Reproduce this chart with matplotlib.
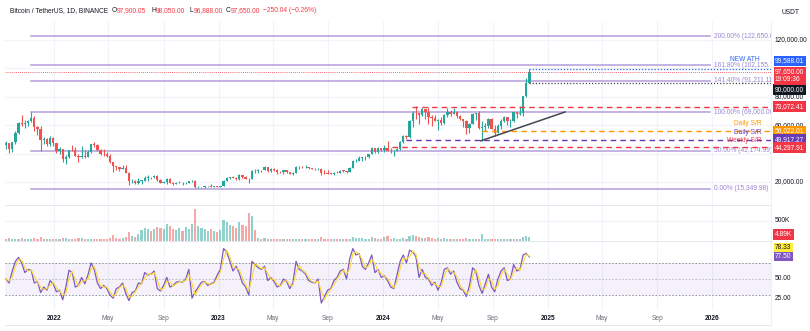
import datetime as dt
import matplotlib
matplotlib.use("Agg")
import matplotlib.pyplot as plt
import matplotlib.dates as mdates
import matplotlib.transforms as mtrans
import numpy as np

plt.rcParams["font.family"] = ["Liberation Sans", "DejaVu Sans"]

# ---------------- data (weekly BTC/USDT candles, prices in thousands) ----------------
first_week = dt.date(2021, 9, 13)
first_open = 46.0
closes = [47.3, 43.2, 48.2, 54.7, 61.5, 61.0, 61.3, 63.3, 65.0, 58.6, 57.3, 49.4, 50.1, 46.7, 50.8, 47.3,
          41.9, 43.1, 36.3, 37.9, 42.4, 42.2, 38.4, 37.7, 38.4, 37.8, 41.3, 46.8, 46.4, 42.8, 39.7, 39.5, 38.5,
          34.3, 31.3, 30.3, 29.4, 29.9, 26.6, 20.6, 21.0, 19.3, 20.8, 20.8, 22.6, 23.3, 23.2, 24.4, 21.5, 19.6,
          20.0, 21.8, 19.4, 18.8, 19.3, 19.4, 19.2, 19.6, 20.6, 21.0, 16.3, 16.3, 16.5, 17.1, 17.1, 16.8, 16.8, 16.6,
          17.1, 20.9, 22.7, 23.7, 23.0, 21.8, 24.6, 23.2, 22.4, 22.0, 28.0, 27.5, 28.5, 28.3, 30.3, 27.8, 29.2,
          28.4, 26.9, 26.8, 28.1, 27.2, 25.9, 26.5, 30.5, 30.6, 30.3, 30.3, 29.8, 29.3, 29.0, 29.4, 26.1, 26.0,
          25.9, 25.8, 26.5, 26.3, 28.0, 27.9, 27.0, 30.0, 34.5, 35.0, 37.1, 37.4, 37.5, 39.5, 43.8, 41.4, 43.7, 42.3,
          43.9, 41.7, 41.6, 42.0, 43.0, 48.3, 52.1, 51.7, 63.1, 68.9, 68.4, 67.2, 71.3, 69.4, 65.7, 64.9, 63.1,
          64.0, 61.5, 67.0, 69.0, 67.8, 69.3, 66.6, 64.3, 62.7, 58.2, 60.8, 68.2, 68.3, 58.1, 58.7, 59.5, 64.2,
          57.3, 54.8, 59.1, 63.3, 65.6, 62.8, 63.0, 69.0, 67.9, 68.7, 80.4, 89.8, 97.65]
highs = [48.8, 47.4, 48.5, 56.0, 62.0, 67.0, 63.7, 63.6, 69.0, 66.3, 59.3, 59.2, 51.9, 50.7, 52.1, 52.0,
         47.6, 44.5, 43.5, 38.9, 42.6, 45.8, 44.7, 39.8, 45.4, 42.6, 42.3, 47.0, 48.2, 47.1, 43.4, 42.9, 40.8,
         40.0, 34.4, 31.3, 30.6, 32.2, 31.8, 26.9, 21.9, 21.5, 22.5, 21.6, 24.3, 24.7, 23.6, 25.2, 25.0, 21.9,
         20.6, 22.8, 22.7, 19.7, 20.3, 20.5, 19.9, 19.7, 21.0, 21.5, 21.5, 17.2, 16.8, 17.4, 17.4, 18.4, 17.1, 16.9,
         17.2, 21.3, 23.4, 23.8, 24.2, 23.3, 25.3, 25.1, 23.9, 22.6, 28.4, 28.9, 29.2, 28.8, 31.0, 30.5, 30.0,
         29.8, 29.0, 27.7, 28.3, 28.4, 27.2, 26.8, 31.4, 31.0, 31.5, 31.8, 30.5, 30.0, 29.8, 30.2, 29.7, 28.2,
         28.1, 26.1, 27.0, 27.5, 28.6, 28.6, 28.0, 30.3, 35.2, 35.9, 38.0, 37.9, 38.4, 39.7, 44.7, 44.0, 44.3, 43.8,
         45.9, 49.0, 43.6, 42.8, 43.9, 48.6, 52.8, 52.9, 64.0, 70.1, 73.8, 68.9, 71.8, 71.3, 72.8, 66.9, 67.2,
         64.7, 65.5, 67.7, 71.9, 70.6, 71.9, 70.2, 67.3, 64.5, 63.8, 61.4, 68.3, 68.5, 70.0, 62.7, 61.8, 65.0,
         64.9, 59.8, 60.6, 64.1, 66.5, 66.0, 64.5, 69.4, 69.5, 73.6, 80.5, 93.5, 99.58801]
lows = [43.4, 40.1, 40.8, 47.0, 53.8, 59.5, 57.8, 59.4, 62.3, 55.6, 53.3, 42.0, 47.1, 45.5, 45.6, 45.7,
        40.6, 39.7, 34.0, 32.9, 36.6, 41.6, 38.0, 34.3, 37.2, 37.2, 37.6, 40.5, 44.3, 42.1, 39.2, 38.5, 37.7,
        33.7, 26.7, 28.6, 28.0, 29.3, 26.5, 17.6, 19.6, 18.6, 18.8, 18.9, 20.7, 20.7, 22.4, 22.7, 21.0, 19.5,
        19.5, 18.5, 19.3, 18.1, 18.5, 19.2, 18.2, 18.8, 19.2, 20.0, 15.6, 16.0, 15.5, 16.0, 16.8, 16.5, 16.5, 16.4,
        16.5, 17.0, 20.4, 22.3, 22.5, 21.4, 21.5, 22.9, 21.9, 19.6, 21.9, 26.6, 26.5, 27.2, 28.2, 27.1, 27.0,
        27.7, 25.8, 26.3, 25.9, 26.5, 25.4, 24.8, 26.2, 29.5, 29.7, 29.9, 29.5, 29.0, 28.6, 28.7, 25.2, 25.8,
        25.3, 25.3, 24.9, 26.0, 26.0, 27.2, 26.5, 26.8, 29.9, 34.0, 34.5, 34.8, 35.6, 36.9, 39.5, 40.2, 40.6, 41.5,
        40.8, 41.5, 40.5, 38.5, 41.9, 42.3, 47.7, 50.5, 50.9, 59.0, 64.5, 60.7, 66.5, 64.5, 60.6, 59.6, 62.8,
        56.5, 60.2, 60.6, 66.0, 66.6, 67.8, 65.0, 63.4, 58.4, 53.5, 54.3, 60.6, 63.4, 57.1, 49.0, 56.1, 57.8,
        57.2, 52.5, 54.6, 57.5, 62.6, 59.8, 58.9, 62.4, 65.1, 67.5, 66.8, 80.2, 89.4]
# volume, thousands of BTC per day
volumes = [55, 70, 60, 55, 60, 65, 55, 50, 60, 65, 50, 90, 50, 45, 40, 40,
           60, 45, 85, 70, 50, 55, 45, 80, 70, 50, 45, 50, 45, 50, 45, 45, 50, 70, 140, 70, 60, 75, 90, 230,
           120, 110, 180, 280, 330, 300, 260, 310, 350, 330, 300, 420, 380, 300, 280, 330, 260, 350,
           300, 420, 790, 380, 330, 300, 260, 300, 250, 230,
           280, 520, 470, 400, 380, 330, 480, 400, 380, 710, 620, 280, 70,
           60, 65, 60, 55, 50, 55, 50, 45, 50, 45, 40, 60, 55, 50, 55, 40, 40, 40, 40, 110, 55, 50, 40, 45,
           40, 45, 45, 40, 60, 95, 75, 70, 65, 60, 60, 100, 75, 60, 55,
           90, 120, 60, 65, 50, 55, 70, 50, 130, 150, 120, 110, 75, 80, 90, 85, 55, 75, 50, 65, 60, 45, 45,
           50, 45, 55, 70, 60, 60, 45, 60, 180, 55, 55, 55, 45, 45, 45, 40, 45, 40, 50, 45, 55, 110, 130, 100]
rsi = [50, 45, 60, 72, 77, 70, 58, 62, 61, 45, 47, 33, 40, 36, 48, 44,
       34, 36, 24, 40, 61, 58, 40, 42, 52, 44, 55, 70, 62, 45, 38, 42, 38, 30, 26, 38, 40, 45, 32, 23,
       33, 35, 45, 44, 58, 55, 56, 60, 38, 35, 42, 52, 40, 42, 46, 47, 46, 50, 62, 26, 34, 40, 46, 47,
       42, 44, 46, 55, 62, 88, 84, 72, 60, 66, 57, 45, 40, 30, 72, 68, 64, 62, 66, 48, 52, 47, 40, 42,
       50, 47, 38, 45, 72, 62, 60, 56, 48, 46, 45, 50, 20, 28, 36, 38, 48, 52, 60, 62, 50, 75, 88, 80,
       82, 66, 62, 70, 80, 58, 62, 52, 54, 48, 40, 38, 55, 72, 80, 70, 86, 84, 78, 52, 62, 52, 50, 42,
       46, 36, 45, 62, 64, 56, 60, 46, 38, 36, 28, 42, 64, 60, 42, 32, 44, 56, 40, 34, 50, 60, 64, 48,
       50, 68, 60, 62, 80, 82, 77.5]
rsi_ma = [50, 47.5, 52.5, 66, 74.5, 73.5, 64, 60, 61.5, 53, 46, 40, 36.5, 38, 42, 46,
          39, 35, 30, 32, 50.5, 59.5, 49, 41, 47, 48, 49.5, 62.5, 66, 53.5, 41.5, 40, 40, 34, 28, 32, 39,
          42.5, 38.5, 27.5, 28, 34, 40, 44.5, 51, 56.5, 55.5, 58, 49, 36.5, 38.5, 47, 46, 41, 44, 46.5,
          46.5, 48, 56, 44, 30, 37, 43, 46.5, 44.5, 43, 45, 50.5, 58.5, 75, 86, 78, 66, 63, 61.5, 51,
          42.5, 35, 51, 70, 66, 63, 64, 57, 50, 49.5, 43.5, 41, 46, 48.5, 42.5, 41.5, 58.5, 67, 61, 58,
          52, 47, 45.5, 47.5, 35, 24, 32, 37, 43, 50, 56, 61, 56, 62.5, 81.5, 84, 81, 74, 64, 66, 75, 69,
          60, 57, 53, 51, 44, 39, 46.5, 63.5, 76, 75, 78, 85, 81, 65, 57, 57, 51, 46, 44, 41, 40.5, 53.5,
          63, 60, 58, 53, 42, 37, 32, 35, 53, 62, 51, 37, 38, 50, 48, 37, 42, 55, 62, 56, 49, 59, 64, 61,
          71, 81, 78.33]

# Fibonacci retracement anchors
fib_low, fib_high = 15349.98, 69000.00
fib_ratios = [0.0, 0.5, 1.0, 1.414, 1.618, 2.0]
fib_span = (dt.date(2021, 11, 10), dt.date(2025, 12, 27))

# support / resistance levels: (value, start date, colour, caption)
sr_levels = [(73072.41, dt.date(2024, 3, 5), "#f23645", None),
             (56022.01, dt.date(2024, 8, 7), "#ff9800", "Daily S/R"),
             (49917.27, dt.date(2024, 2, 20), "#673ab7", "Daily S/R"),
             (44297.91, dt.date(2024, 1, 20), "#f23645", "Weekly S/R")]
trend_dates = [dt.date(2024, 8, 5), dt.date(2025, 2, 8)]
trend_prices = [49000, 69300]
last_price, ath_price, round_level = 97650.00, 99588.01, 90000.00
line_start = dt.date(2024, 11, 21)

tick_dates = [dt.date(2022, 1, 1), dt.date(2022, 5, 1), dt.date(2022, 9, 1), dt.date(2023, 1, 1),
              dt.date(2023, 5, 1), dt.date(2023, 9, 1), dt.date(2024, 1, 1), dt.date(2024, 5, 1),
              dt.date(2024, 9, 1), dt.date(2025, 1, 1), dt.date(2025, 5, 1), dt.date(2025, 9, 1),
              dt.date(2026, 1, 1)]
tick_labels = ["2022", "May", "Sep", "2023", "May", "Sep", "2024", "May", "Sep", "2025", "May", "Sep", "2026"]
price_grid = [20000, 40000, 60000, 80000, 100000, 120000]
price_labels = [120000, 80000, 60000, 20000]

# ---------------- figure ----------------
W, H = 810, 331
fig = plt.figure(figsize=(W / 100, H / 100), dpi=100)
fig.patch.set_facecolor("white")
FS = 4.8
GREEN, RED = "#26a69a", "#ef5350"
TXT = "#131722"
GRID = "#f0f3fa"


def rect(x0, y0, x1, y1):
    return [x0 / W, 1 - y1 / H, (x1 - x0) / W, (y1 - y0) / H]


ax = fig.add_axes(rect(5, 22, 771, 205))
axv = fig.add_axes(rect(5, 205, 771, 241), sharex=ax)
axr = fig.add_axes(rect(5, 241, 771, 310), sharex=ax)
for a in (ax, axv, axr):
    a.set_facecolor("none")
    for s in a.spines.values():
        s.set_visible(False)
    a.tick_params(left=False, bottom=False, labelleft=False, labelbottom=False)
    for d in tick_dates:
        a.axvline(mdates.date2num(d), color=GRID, lw=0.8, zorder=0)

ref = mdates.date2num(dt.date(2024, 1, 1))
ax.set_xlim(ref - 839.1, ref + 861.3)
ax.set_ylim(3803, 132676)
axv.set_ylim(0, 900)
axr.set_ylim(11.25, 97.5)

# candles
n = len(closes)
x = mdates.date2num([first_week + dt.timedelta(days=7 * i + 3) for i in range(n)])
c = np.array(closes) * 1000
o = np.concatenate([[first_open * 1000], c[:-1]])
hi = np.array(highs) * 1000
lo = np.array(lows) * 1000
up = c >= o
cols = np.where(up, GREEN, RED)
for yv in price_grid:
    ax.axhline(yv, color=GRID, lw=0.8, zorder=0)
ax.vlines(x, lo, hi, colors=cols, lw=0.8, zorder=3)
body = np.maximum(np.abs(c - o), 300)
ax.bar(x, body, bottom=np.minimum(o, c), width=5.2, color=cols, zorder=4, linewidth=0)

# Fibonacci levels
FIB_C = "#b39ddb"
FIB_T = "#9a86d0"
fx0, fx1 = mdates.date2num(fib_span[0]), mdates.date2num(fib_span[1])
for r in fib_ratios:
    lvl = fib_low + r * (fib_high - fib_low)
    ax.plot([fx0, fx1], [lvl, lvl], color=FIB_C, lw=1.1, zorder=2)
    ax.annotate(f"{r * 100:.2f}% ({lvl:,.2f})", xy=(fx1, lvl), xytext=(3, 0), textcoords="offset points",
                ha="left", va="center", fontsize=FS, color=FIB_T, annotation_clip=False, clip_on=True)

# support / resistance
xend = ax.get_xlim()[1]
for val, start, col, cap in sr_levels:
    ax.plot([mdates.date2num(start), xend], [val, val], color=col, lw=1.0, ls=(0, (4, 3)), zorder=5)
    if cap:
        ax.annotate(cap, xy=(xend, val), xytext=(-7, 5), textcoords="offset points", ha="right",
                    va="center", fontsize=FS, color=col, zorder=6)

# trend line
ax.plot(mdates.date2num(trend_dates), trend_prices, color="#434651", lw=1.1, zorder=6)

# current price, ATH and round-number lines
ax.axhline(last_price, color="#f23645", lw=0.6, ls=(0, (1, 1.5)), zorder=5)
ls0 = mdates.date2num(line_start)
ax.plot([ls0, xend], [ath_price, ath_price], color="#2962ff", lw=0.9, ls=(0, (1, 1.5)), zorder=5)
ax.plot([ls0, xend], [round_level, round_level], color="#434651", lw=0.9, ls=(0, (1, 1.5)), zorder=5)
ax.annotate("NEW ATH", xy=(xend, ath_price), xytext=(-8, 7), textcoords="offset points", ha="right",
            va="center", fontsize=FS, color="#2962ff", zorder=7)

# volume
axv.axhline(500, color=GRID, lw=0.8, zorder=0)
axv.bar(x, volumes, width=4.8, color=cols, alpha=0.5, linewidth=0)

# RSI
axr.axhspan(30, 70, color="#7e57c2", alpha=0.08, lw=0)
for lvl, al in ((70, 0.9), (50, 0.5), (30, 0.9)):
    axr.axhline(lvl, color="#787b86", lw=0.6, ls=(0, (2, 2)), alpha=al)
axr.plot(x, rsi, color="#7e57c2", lw=0.9, zorder=3)
axr.plot(x, rsi_ma, color="#fdd835", lw=0.8, zorder=4)

# ---------------- right-hand scale ----------------
SX = 775 / W


def tag(a, val, text, fc=None, tc=TXT, dy=0.0, pad=0.25):
    kw = dict(xy=(SX, val), xycoords=("figure fraction", "data"), xytext=(0, -dy * 0.72),
              textcoords="offset points", ha="left", va="center", fontsize=FS, color=tc,
              annotation_clip=False, zorder=10)
    if fc:
        kw["bbox"] = dict(boxstyle=f"square,pad={pad}", fc=fc, ec="none")
    a.annotate(text, **kw)


for p in price_labels:
    tag(ax, p, f"{p:,.2f}")
tag(ax, round_level, f"{round_level:,.2f}", TXT, "white", dy=7)
tag(ax, last_price, f"{last_price:,.2f}\n19:09:36", "#f23645", "white", dy=4, pad=0.2)
tag(ax, ath_price, f"{ath_price:,.2f}", "#2962ff", "white", dy=-8, pad=0.2)
for val, start, col, cap in sr_levels:
    tag(ax, val, f"{val:,.2f}", col, "white")
tag(axv, 500, "500K")
tag(axv, 160, "4.89K", "#f23645", "white")
tag(axr, 77.50, "77.50", "#7e57c2", "white", dy=-1, pad=0.2)
tag(axr, 78.33, "78.33", "#ffeb3b", TXT, dy=-9, pad=0.2)
tag(axr, 50, "50.00")
tag(axr, 25, "25.00")
fig.text(782 / W, 1 - 12 / H, "USDT", fontsize=FS, color=TXT, va="center")

# time axis
tt = mtrans.blended_transform_factory(axr.transData, fig.transFigure)
for d, lab in zip(tick_dates, tick_labels):
    bold = lab.isdigit()
    axr.text(mdates.date2num(d), 1 - 319 / H, lab, transform=tt, ha="center", va="center", fontsize=FS,
             color=TXT if bold else "#6a6d78", fontweight="bold" if bold else "normal", clip_on=False)

# pane separators
for yy in (205, 241, 325):
    fig.add_artist(plt.Line2D([5 / W, 771 / W], [1 - yy / H] * 2, color="#e0e3eb", lw=0.6))
fig.add_artist(plt.Line2D([771 / W] * 2, [1 - 325 / H, 1 - 22 / H], color="#eceef3", lw=0.6))

# header
hy = 1 - 11 / H
fig.text(10 / W, hy, "Bitcoin / TetherUS, 1D, BINANCE", fontsize=FS, color=TXT, va="center")
for xp, key, val in ((112, "O", "97,900.05"), (151, "H", "98,050.00"), (189, "L", "96,888.00"),
                     (226, "C", "97,650.00")):
    fig.text(xp / W, hy, key, fontsize=FS, color=TXT, va="center")
    fig.text((xp + 4.8) / W, hy, val, fontsize=FS, color="#f23645", va="center")
fig.text(263 / W, hy, "\u2212250.04 (\u22120.26%)", fontsize=FS, color="#f23645", va="center")

fig.savefig("out.png", dpi=100, facecolor="white")
